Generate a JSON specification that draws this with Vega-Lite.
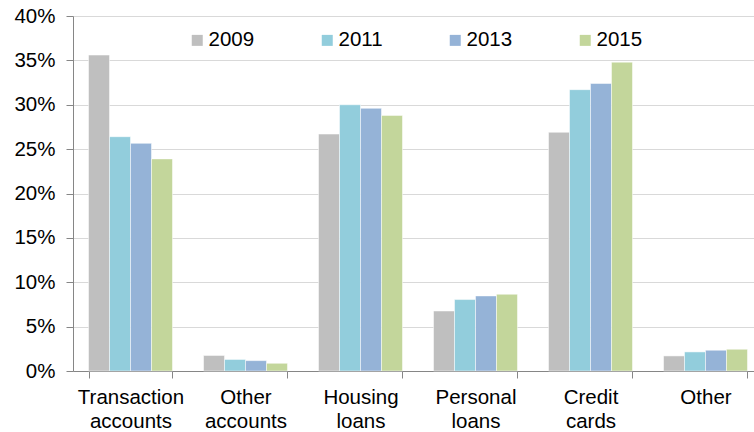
{
  "$schema": "https://vega.github.io/schema/vega-lite/v6.json",
  "width": 690,
  "height": 355,
  "autosize": {"type": "none"},
  "padding": {"left": 73, "top": 16, "right": 0, "bottom": 61},
  "background": "white",
  "config": {
    "view": {"stroke": null},
    "font": "Liberation Sans"
  },
  "data": {
    "values": [
      {"category": "Transaction accounts", "year": "2009", "value": 35.6},
      {"category": "Transaction accounts", "year": "2011", "value": 26.4},
      {"category": "Transaction accounts", "year": "2013", "value": 25.65},
      {"category": "Transaction accounts", "year": "2015", "value": 23.9},
      {"category": "Other accounts", "year": "2009", "value": 1.75},
      {"category": "Other accounts", "year": "2011", "value": 1.3},
      {"category": "Other accounts", "year": "2013", "value": 1.17},
      {"category": "Other accounts", "year": "2015", "value": 0.87},
      {"category": "Housing loans", "year": "2009", "value": 26.7},
      {"category": "Housing loans", "year": "2011", "value": 30.0},
      {"category": "Housing loans", "year": "2013", "value": 29.6},
      {"category": "Housing loans", "year": "2015", "value": 28.8},
      {"category": "Personal loans", "year": "2009", "value": 6.76},
      {"category": "Personal loans", "year": "2011", "value": 8.05},
      {"category": "Personal loans", "year": "2013", "value": 8.46},
      {"category": "Personal loans", "year": "2015", "value": 8.65},
      {"category": "Credit cards", "year": "2009", "value": 26.9},
      {"category": "Credit cards", "year": "2011", "value": 31.7},
      {"category": "Credit cards", "year": "2013", "value": 32.4},
      {"category": "Credit cards", "year": "2015", "value": 34.8},
      {"category": "Other", "year": "2009", "value": 1.7},
      {"category": "Other", "year": "2011", "value": 2.15},
      {"category": "Other", "year": "2013", "value": 2.34},
      {"category": "Other", "year": "2015", "value": 2.45}
    ]
  },
  "mark": {"type": "bar", "stroke": "white", "strokeWidth": 0.5},
  "encoding": {
    "x": {
      "field": "category",
      "type": "nominal",
      "sort": ["Transaction accounts", "Other accounts", "Housing loans", "Personal loans", "Credit cards", "Other"],
      "scale": {"paddingInner": 0.27, "paddingOuter": 0.135},
      "axis": {
        "title": null,
        "labelAngle": 0,
        "labelExpr": "split(datum.label, ' ')",
        "labelFontSize": 20.5,
        "labelColor": "#000000",
        "labelLineHeight": 24,
        "labelPadding": 9,
        "tickBand": "extent",
        "tickSize": 7,
        "tickColor": "#868686",
        "domainColor": "#868686",
        "grid": false
      }
    },
    "xOffset": {"field": "year", "type": "nominal", "scale": {"paddingInner": 0, "paddingOuter": 0}},
    "y": {
      "field": "value",
      "type": "quantitative",
      "scale": {"domain": [0, 40], "nice": false},
      "axis": {
        "title": null,
        "values": [0, 5, 10, 15, 20, 25, 30, 35, 40],
        "labelExpr": "datum.value + '%'",
        "labelFontSize": 20.5,
        "labelColor": "#000000",
        "labelPadding": 11,
        "tickSize": 7,
        "tickColor": "#868686",
        "domainColor": "#868686",
        "gridColor": "#D9D9D9",
        "gridWidth": 1.2
      }
    },
    "color": {
      "field": "year",
      "type": "nominal",
      "scale": {"domain": ["2009", "2011", "2013", "2015"], "range": ["#BFBFBF", "#92CDDC", "#95B3D7", "#C3D69B"]},
      "legend": {
        "title": null,
        "orient": "none",
        "direction": "horizontal",
        "legendX": 114,
        "legendY": 14,
        "symbolType": "square",
        "symbolSize": 121,
        "symbolStrokeWidth": 0,
        "labelFontSize": 20.5,
        "labelColor": "#000000",
        "labelOffset": 1,
        "columnPadding": 62
      }
    }
  }
}
